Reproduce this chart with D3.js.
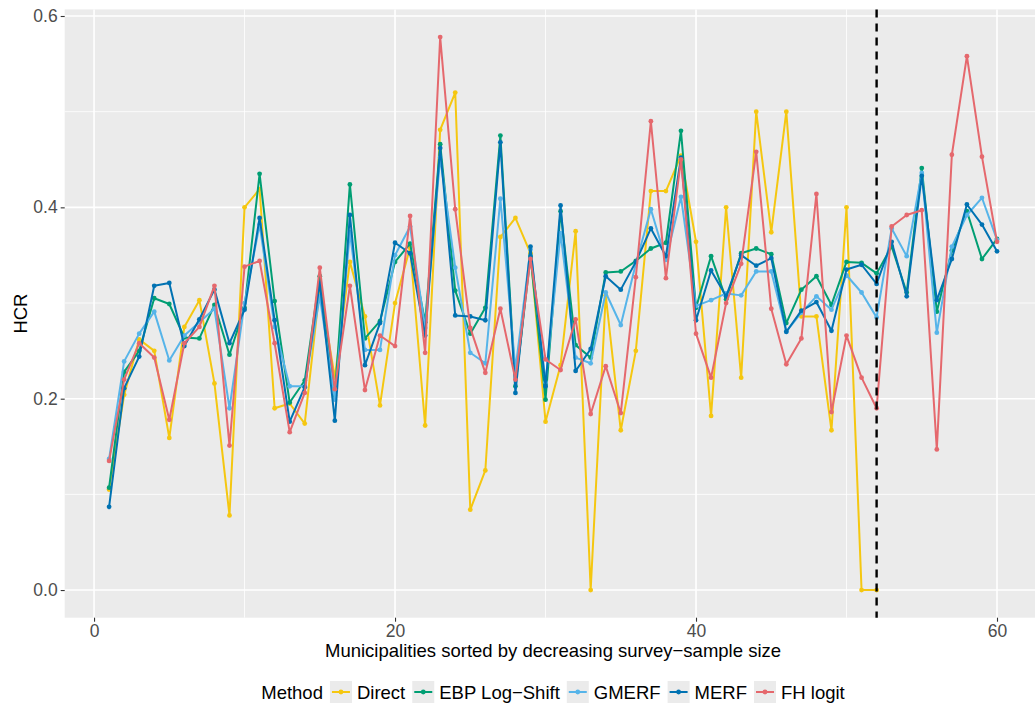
<!DOCTYPE html>
<html>
<head>
<meta charset="utf-8">
<script src="https://cdn.jsdelivr.net/npm/d3@7"></script>
<style>
  body { margin: 0; background: #fff; }
  text { font-family: "Liberation Sans", Arial, sans-serif; }
</style>
</head>
<body>
<svg id="vis_hcr" width="1035" height="707"></svg>
<script>
// HCR estimates per municipality, one array per method
var methods = ["Direct", "EBP Log\u2212Shift", "GMERF", "MERF", "FH logit"];
var colors = ["#F5C710", "#009E73", "#56B4E9", "#0072B2", "#E5686D"];

var direct = [0.105,0.204,0.262,0.250,0.159,0.275,0.303,0.216,0.078,0.400,
  0.419,0.190,0.195,0.174,0.316,0.222,0.343,0.286,0.193,0.300,
  0.358,0.172,0.481,0.520,0.084,0.125,0.369,0.389,0.352,0.176,
  0.235,0.375,0.000,0.308,0.167,0.250,0.417,0.417,0.454,0.364,
  0.182,0.400,0.222,0.500,0.374,0.500,0.286,0.286,0.167,0.400,
  0.000,0.000];
var ebp = [0.107,0.228,0.250,0.305,0.299,0.264,0.263,0.298,0.246,0.295,
  0.435,0.302,0.196,0.219,0.328,0.203,0.424,0.263,0.281,0.343,
  0.362,0.280,0.466,0.313,0.268,0.295,0.475,0.213,0.349,0.199,
  0.396,0.256,0.243,0.332,0.333,0.344,0.357,0.363,0.480,0.295,
  0.349,0.304,0.352,0.357,0.351,0.279,0.314,0.328,0.298,0.343,
  0.342,0.331,0.359,0.311,0.441,0.291,0.355,0.396,0.346,0.367];
var gmerf = [0.137,0.239,0.268,0.291,0.240,0.266,0.280,0.294,0.190,0.300,
  0.382,0.275,0.213,0.213,0.307,0.199,0.374,0.251,0.251,0.350,
  0.380,0.274,0.452,0.337,0.248,0.237,0.409,0.231,0.356,0.217,
  0.373,0.243,0.237,0.311,0.277,0.341,0.398,0.345,0.411,0.297,
  0.303,0.310,0.308,0.333,0.333,0.270,0.290,0.307,0.293,0.329,
  0.311,0.285,0.378,0.349,0.436,0.269,0.359,0.392,0.410,0.366];
var merf = [0.087,0.211,0.244,0.318,0.321,0.255,0.283,0.314,0.258,0.293,
  0.389,0.282,0.176,0.212,0.321,0.177,0.392,0.235,0.279,0.363,
  0.352,0.266,0.462,0.287,0.286,0.282,0.468,0.206,0.359,0.213,
  0.402,0.229,0.252,0.328,0.314,0.343,0.378,0.349,0.452,0.282,
  0.334,0.307,0.350,0.339,0.347,0.270,0.292,0.301,0.271,0.335,
  0.340,0.320,0.364,0.307,0.433,0.303,0.346,0.403,0.382,0.354];
var fhLogit = [0.135,0.220,0.258,0.243,0.178,0.258,0.275,0.318,0.151,0.338,
  0.344,0.258,0.165,0.206,0.337,0.210,0.318,0.209,0.266,0.255,
  0.391,0.248,0.578,0.398,0.274,0.227,0.294,0.220,0.346,0.241,
  0.230,0.283,0.184,0.234,0.185,0.327,0.490,0.326,0.450,0.268,
  0.222,0.300,0.341,0.458,0.294,0.236,0.263,0.414,0.186,0.266,
  0.222,0.190,0.380,0.392,0.397,0.147,0.455,0.558,0.453,0.364];

var cutoff = 52;            // dashed line: in-sample / out-of-sample split
var xTicks = [0, 20, 40, 60];
var yTicks = [0.0, 0.2, 0.4, 0.6];

function vis_hcr() {
  var svg = d3.select("#vis_hcr");

  var series = [direct, ebp, gmerf, merf, fhLogit].map(function(vals, i) {
    return { name: methods[i], color: colors[i],
             values: vals.map(function(v, j) { return { x: j + 1, y: v }; }) };
  });

  // ggplot-style 5% expansion
  var allX = d3.merge(series.map(function(s) { return s.values.map(function(d) { return d.x; }); }));
  var allY = d3.merge(series.map(function(s) { return s.values.map(function(d) { return d.y; }); }));
  var xExt = d3.extent(allX), yExt = d3.extent(allY);
  var xPad = (xExt[1] - xExt[0]) * 0.05, yPad = (yExt[1] - yExt[0]) * 0.05;

  var left = 64.7, right = 1041.4, top = 9.4, bottom = 617.7;

  var x = d3.scaleLinear().domain([xExt[0] - xPad, xExt[1] + xPad]).range([left, right]);
  var y = d3.scaleLinear().domain([yExt[0] - yPad, yExt[1] + yPad]).range([bottom, top]);

  // panel
  svg.append("rect")
    .attr("x", left).attr("y", top)
    .attr("width", right - left).attr("height", bottom - top)
    .attr("fill", "#EBEBEB");

  // minor grid
  var g = svg.append("g");
  [10, 30, 50].forEach(function(v) {
    g.append("line").attr("x1", x(v)).attr("x2", x(v)).attr("y1", top).attr("y2", bottom)
      .attr("stroke", "#fff").attr("stroke-width", 0.8);
  });
  [0.1, 0.3, 0.5].forEach(function(v) {
    g.append("line").attr("x1", left).attr("x2", right).attr("y1", y(v)).attr("y2", y(v))
      .attr("stroke", "#fff").attr("stroke-width", 0.8);
  });
  // major grid
  xTicks.forEach(function(v) {
    g.append("line").attr("x1", x(v)).attr("x2", x(v)).attr("y1", top).attr("y2", bottom)
      .attr("stroke", "#fff").attr("stroke-width", 1.6);
  });
  yTicks.forEach(function(v) {
    g.append("line").attr("x1", left).attr("x2", right).attr("y1", y(v)).attr("y2", y(v))
      .attr("stroke", "#fff").attr("stroke-width", 1.6);
  });

  // axes
  var xAxis = svg.append("g")
    .attr("transform", "translate(0," + bottom + ")")
    .call(d3.axisBottom(x).tickValues(xTicks).tickSize(4).tickPadding(3).tickFormat(d3.format("d")));
  var yAxis = svg.append("g")
    .attr("transform", "translate(" + left + ",0)")
    .call(d3.axisLeft(y).tickValues(yTicks).tickSize(4).tickPadding(3).tickFormat(d3.format(".1f")));
  [xAxis, yAxis].forEach(function(a) {
    a.select(".domain").remove();
    a.selectAll(".tick line").attr("stroke", "#333").attr("stroke-width", 1.1);
    a.selectAll(".tick text").attr("fill", "#4D4D4D").style("font-size", "17.5px")
      .style("font-family", "Liberation Sans, Arial, sans-serif");
  });

  // lines + points
  var line = d3.line().x(function(d) { return x(d.x); }).y(function(d) { return y(d.y); });
  var plot = svg.append("g");
  series.forEach(function(s) {
    plot.append("path")
      .datum(s.values)
      .attr("d", line)
      .attr("fill", "none")
      .attr("stroke", s.color)
      .attr("stroke-width", 2)
      .attr("stroke-linejoin", "round");
    plot.selectAll(null)
      .data(s.values)
      .enter()
      .append("circle")
        .attr("cx", function(d) { return x(d.x); })
        .attr("cy", function(d) { return y(d.y); })
        .attr("r", 2.4)
        .attr("fill", s.color);
  });

  // cutoff
  svg.append("line")
    .attr("x1", x(cutoff)).attr("x2", x(cutoff))
    .attr("y1", top).attr("y2", bottom)
    .attr("stroke", "#000").attr("stroke-width", 2.4)
    .attr("stroke-dasharray", "8,6");

  // axis titles
  svg.append("text")
    .attr("x", (left + right) / 2).attr("y", 657)
    .attr("text-anchor", "middle").style("font-size", "18.5px").attr("fill", "#000")
    .text("Municipalities sorted by decreasing survey\u2212sample size");
  svg.append("text")
    .attr("transform", "translate(27," + ((top + bottom) / 2) + ") rotate(-90)")
    .attr("text-anchor", "middle").style("font-size", "18.5px").attr("fill", "#000")
    .text("HCR");

  // legend
  var leg = svg.append("g");
  var ly = 692;
  var title = leg.append("text").attr("x", 0).attr("y", ly + 6.5)
    .style("font-size", "18.5px").text("Method");
  var cx = title.node().getComputedTextLength() + 7;
  series.forEach(function(s) {
    leg.append("rect").attr("x", cx).attr("y", ly - 11).attr("width", 22).attr("height", 22)
      .attr("fill", "#EBEBEB");
    leg.append("line").attr("x1", cx + 2).attr("x2", cx + 20).attr("y1", ly).attr("y2", ly)
      .attr("stroke", s.color).attr("stroke-width", 2);
    leg.append("circle").attr("cx", cx + 11).attr("cy", ly).attr("r", 2.4).attr("fill", s.color);
    var t = leg.append("text").attr("x", cx + 27).attr("y", ly + 6.5)
      .style("font-size", "18.5px").text(s.name);
    cx += 27 + t.node().getComputedTextLength() + 7;
  });
  var legW = cx - 7;
  leg.attr("transform", "translate(" + (553 - legW / 2) + ",0)");
}

vis_hcr();
</script>
</body>
</html>
